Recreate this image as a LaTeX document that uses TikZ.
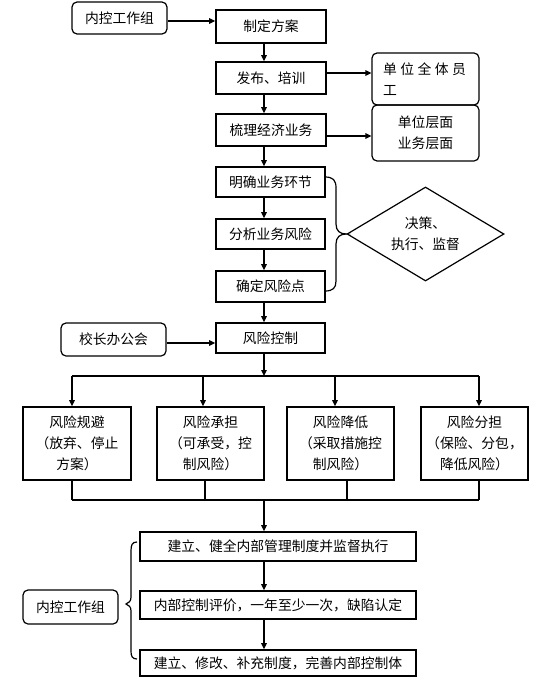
\documentclass[tikz,border=0pt]{standalone}
\usepackage{fontspec}
\newfontfamily\cjk{Noto Sans CJK SC}
\usetikzlibrary{shapes.geometric,arrows.meta,calc}
\begin{document}
\begin{tikzpicture}[x=1pt,y=-1pt,
  every node/.style={font=\cjk\fontsize{13.8}{21}\selectfont, inner sep=0pt},
  sbox/.style={draw, line width=1.6pt, minimum width=109pt, align=center},
  rbox/.style={draw, line width=1.2pt, rounded corners=5pt, align=center},
  arr/.style={line width=1.2pt, -{Triangle[length=6pt,width=5.5pt]}},
  ln/.style={line width=1.4pt},
  brc/.style={line width=1.2pt}]
\useasboundingbox[fill=white] (0,0) rectangle (539,677);
% helper coordinates
\coordinate (cx) at (264,0);
\coordinate (ya) at (0,21);
\coordinate (yb) at (0,73);
\coordinate (yc) at (0,136);
\coordinate (yd) at (0,343);
\coordinate (bus1) at (0,376);
\coordinate (bus2) at (0,500);
\coordinate (c1) at (72,0);
\coordinate (c2) at (203,0);
\coordinate (c3) at (335,0);
\coordinate (c4) at (479,0);
\coordinate (d1) at (72,0);
\coordinate (d2) at (205,0);
\coordinate (d3) at (347,0);
\coordinate (d4) at (479,0);
% top
\node[rbox, minimum width=95pt, minimum height=32pt] (nk1) at (119.5,18) {内控工作组};
\node[sbox, minimum width=110pt, minimum height=33pt] (s1) at (271,26.5) {制定方案};
\node[sbox, minimum width=110pt, minimum height=32pt] (s2) at (271,78) {发布、培训};
\node[sbox, minimum width=110pt, minimum height=32pt] (s3) at (271,130) {梳理经济业务};
\node[rbox, minimum width=107pt, minimum height=52pt, text width=85pt, align=left] (r1) at (425.5,79) {单\hspace{3.5pt}位\hspace{3.5pt}全\hspace{3.5pt}体\hspace{3.5pt}员\\工};
\node[rbox, minimum width=107pt, minimum height=56pt] (r2) at (425.5,133) {单位层面\\业务层面};
\node[sbox, minimum height=30pt] (s4) at (270.5,182) {明确业务环节};
\node[sbox, minimum height=30pt] (s5) at (270.5,234) {分析业务风险};
\node[sbox, minimum height=31pt] (s6) at (270.5,286.5) {确定风险点};
\node[draw, line width=1.2pt, diamond, aspect=1.67, minimum width=157pt, minimum height=94pt, align=center] (dia) at (425.5,234) {决策、\\执行、监督};
\node[rbox, minimum width=105pt, minimum height=33pt] (xz) at (113.5,339.5) {校长办公会};
\node[sbox, minimum height=30pt] (s7) at (270.5,338) {风险控制};
% four boxes
\node[sbox, minimum width=108pt, minimum height=73pt] (b1) at (77,443.5) {风险规避\\（放弃、停止\\方案）};
\node[sbox, minimum width=107pt, minimum height=73pt] (b2) at (210.5,443.5) {风险承担\\（可承受，控\\制风险）};
\node[sbox, minimum width=107pt, minimum height=73pt] (b3) at (340.5,443.5) {风险降低\\（采取措施控\\制风险）};
\node[sbox, minimum width=107pt, minimum height=73pt] (b4) at (474.5,443.5) {风险分担\\（保险、分包，\\降低风险）};
% bottom
\node[sbox, minimum width=276pt, minimum height=29pt] (t1) at (278,546.5) {建立、健全内部管理制度并监督执行};
\node[sbox, minimum width=276pt, minimum height=28pt] (t2) at (278,605) {内部控制评价，一年至少一次，缺陷认定};
\node[sbox, minimum width=276pt, minimum height=26pt] (t3) at (278,663) {建立、修改、补充制度，完善内部控制体};
\node[rbox, minimum width=95pt, minimum height=34pt] (nk2) at (70.5,607) {内控工作组};
% connectors top
\draw[arr] (nk1.east |- ya) -- (s1.west |- ya);
\draw[arr] (s1.south -| cx) -- (s2.north -| cx);
\draw[arr] (s2.south -| cx) -- (s3.north -| cx);
\draw[arr] (s3.south -| cx) -- (s4.north -| cx);
\draw[arr] (s4.south -| cx) -- (s5.north -| cx);
\draw[arr] (s5.south -| cx) -- (s6.north -| cx);
\draw[arr] (s6.south -| cx) -- (s7.north -| cx);
\draw[arr] (s2.east |- yb) -- (r1.west |- yb);
\draw[arr] (s3.east |- yc) -- (r2.west |- yc);
\draw[arr] (xz.east |- yd) -- (s7.west |- yd);
% brace to diamond
\draw[brc] (325,177) .. controls (333,177) and (336,180) .. (336,188) -- (336,224)
  .. controls (336,231) and (340,234) .. (dia.west)
  .. controls (340,234) and (336,237) .. (336,244) -- (336,281)
  .. controls (336,288) and (333,291) .. (325,291);
% distribution bus
\draw[arr] (s7.south -| cx) -- (cx |- bus1);
\draw[ln] (c1 |- bus1) -- (c4 |- bus1);
\draw[arr] (c1 |- bus1) -- (b1.north -| c1);
\draw[arr] (c2 |- bus1) -- (b2.north -| c2);
\draw[arr] (c3 |- bus1) -- (b3.north -| c3);
\draw[arr] (c4 |- bus1) -- (b4.north -| c4);
% collecting bus
\draw[ln] (b1.south -| d1) -- (d1 |- bus2);
\draw[ln] (b2.south -| d2) -- (d2 |- bus2);
\draw[ln] (b3.south -| d3) -- (d3 |- bus2);
\draw[ln] (b4.south -| d4) -- (d4 |- bus2);
\draw[ln] (d1 |- bus2) -- (d4 |- bus2);
\draw[arr] (cx |- bus2) -- (t1.north -| cx);
\draw[arr] (t1.south -| cx) -- (t2.north -| cx);
\draw[arr] (t2.south -| cx) -- (t3.north -| cx);
% left brace
\draw[brc] (137,542) .. controls (132,542) and (131,545) .. (131,551) -- (131,597)
  .. controls (131,601) and (129,603) .. (126,604)
  .. controls (129,605) and (131,607) .. (131,611) -- (131,651)
  .. controls (131,656) and (132,659) .. (137,659);
\end{tikzpicture}
\end{document}
